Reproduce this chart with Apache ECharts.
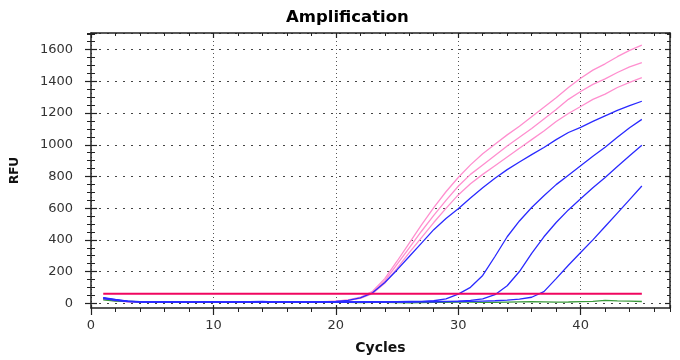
<!DOCTYPE html>
<html><head><meta charset="utf-8">
<script src="https://cdn.jsdelivr.net/npm/echarts@6/dist/echarts.min.js"></script>
<style>html,body{margin:0;padding:0;background:#fff}#c{width:680px;height:360px}</style>
</head><body><div id="c"></div>
<script>
const cycles = [1,2,3,4,5,6,7,8,9,10,11,12,13,14,15,16,17,18,19,20,21,22,23,24,25,26,27,28,29,30,31,32,33,34,35,36,37,38,39,40,41,42,43,44,45];
const pink1 = [22,12,4,2,1,0,1,2,1,0,-1,1,2,3,1,0,1,2,4,8,15,32,70,150,260,375,490,600,700,790,870,940,1000,1060,1115,1175,1235,1295,1360,1418,1470,1510,1555,1595,1628];
const pink2 = [20,10,3,1,0,1,2,0,1,2,0,1,3,2,0,1,2,1,3,7,13,28,62,135,240,345,450,550,645,735,810,870,930,990,1045,1100,1160,1220,1285,1335,1380,1415,1455,1490,1517];
const pink3 = [18,9,4,2,1,0,2,1,0,1,3,2,1,0,2,3,1,2,3,6,12,25,55,120,215,315,410,505,595,680,750,810,865,920,975,1030,1085,1145,1195,1240,1285,1318,1360,1392,1422];
const blue1 = [30,18,8,4,3,2,3,1,2,4,1,3,4,6,3,2,3,2,4,6,12,28,60,125,205,290,375,460,530,592,660,725,785,840,888,935,980,1030,1075,1108,1145,1180,1215,1245,1273];
const blue2 = [28,16,7,3,2,3,2,1,3,2,0,2,3,2,1,2,3,1,2,3,2,3,4,3,4,5,6,10,22,52,95,170,290,415,515,600,675,745,805,865,925,982,1045,1105,1158];
const blue3 = [26,14,6,3,2,1,2,3,1,2,1,2,1,3,2,1,2,3,2,1,2,3,2,3,4,3,4,5,6,8,12,22,48,105,195,310,415,505,585,655,725,790,860,928,994];
const blue4 = [24,13,5,2,1,2,1,0,2,1,3,2,1,2,0,1,2,1,2,1,1,2,1,2,3,2,3,3,4,5,6,8,10,14,20,32,68,150,235,315,395,480,565,650,736];
const green = [15,8,6,4,2,1,0,1,0,-1,0,1,0,-1,0,1,0,-1,0,1,0,-2,-1,0,-2,-3,-2,-1,0,1,2,0,-1,1,3,4,3,1,2,4,6,12,9,7,5];
const THRESHOLD = 55;
const Y_MAJOR_STEP = 200, Y_MINOR_STEP = 50;
const X_MAJOR_STEP = 10, X_MINOR_STEP = 2;
const YMIN = -36, YMAX = 1705, XMIN = 0, XMAX = 47.3;

const FONT = 'DejaVu Sans';
const AX = '#222';

// geometry: plot grid and a tick grid whose bottom sits at y=0
const G_LEFT = 91, G_RIGHT = 10, G_TOP = 33, G_BOTTOM = 51, H = 360;
const plotH = H - G_TOP - G_BOTTOM;
const zeroBottom = G_BOTTOM + (0 - YMIN) / (YMAX - YMIN) * plotH;

const noAxis = {splitLine:{show:false}, axisLabel:{show:false}, axisTick:{show:false}, minorTick:{show:false}, axisLine:{show:false, onZero:false}};
function ax(base, o){ return Object.assign({type:'value'}, noAxis, base, o); }
const tk = (len, inside, w) => ({show:true, length:len, inside:inside, lineStyle:{color:AX, width:w||1}});
const lineOn = {show:true, onZero:false, lineStyle:{color:AX, width:1.5}};

const xBase = {gridIndex:0, min:XMIN, max:XMAX};
const xAxes = [
  ax(xBase, {position:'bottom', interval:X_MAJOR_STEP, axisLine:lineOn, axisTick:tk(7,false,1.2),
    axisLabel:{show:true, margin:11, fontFamily:FONT, fontSize:13, color:'#333', showMaxLabel:false, formatter:v=>String(v)},
    splitLine:{show:true, lineStyle:{color:'#555', width:1, type:[1,3]}},
    name:'Cycles', nameLocation:'middle', nameGap:33,
    nameTextStyle:{fontFamily:FONT, fontWeight:'bold', fontSize:14, color:'#111'}}),
  ax(xBase, {position:'bottom', interval:X_MAJOR_STEP, axisTick:tk(3,true,1.2)}),
  ax(xBase, {position:'bottom', interval:X_MINOR_STEP, axisTick:tk(4,false)}),
  ax(xBase, {position:'top', interval:X_MAJOR_STEP, axisLine:lineOn, axisTick:tk(5,true,1.2)}),
  ax(xBase, {position:'top', interval:X_MINOR_STEP, axisTick:tk(3,true)}),
  ax({gridIndex:1, min:XMIN, max:XMAX}, {position:'bottom'})
];
const yPlot = {gridIndex:0, min:YMIN, max:YMAX};
const yTick = {gridIndex:1, min:0, max:YMAX};
const yAxes = [
  ax(yPlot, {position:'left', axisLine:lineOn, name:'RFU', nameLocation:'middle', nameGap:70, nameRotate:90,
    nameTextStyle:{fontFamily:FONT, fontWeight:'bold', fontSize:12, color:'#111'}}),
  ax(yPlot, {position:'right', axisLine:lineOn}),
  ax(yTick, {position:'left', interval:Y_MAJOR_STEP, axisTick:tk(6,false,1.2),
    axisLabel:{show:true, margin:18, fontFamily:FONT, fontSize:13, color:'#333', showMaxLabel:false, formatter:v=>String(v)},
    splitLine:{show:true, lineStyle:{color:'#444', width:1, type:[2,6]}}}),
  ax(yTick, {position:'left', interval:Y_MAJOR_STEP, axisTick:tk(6,true,1.2)}),
  ax(yTick, {position:'left', interval:Y_MINOR_STEP, axisTick:tk(4,false)}),
  ax(yTick, {position:'left', interval:Y_MINOR_STEP, axisTick:tk(4,true)}),
  ax(yTick, {position:'right', interval:Y_MAJOR_STEP, axisTick:tk(5,true,1.2)}),
  ax(yTick, {position:'right', interval:Y_MINOR_STEP, axisTick:tk(3,true)})
];

const toPts = arr => cycles.map((c,i)=>[c, arr[i]]);
const mk = (name, arr, color, w, z) => ({type:'line', name, xAxisIndex:0, yAxisIndex:0, data: toPts(arr), symbol:'none', showSymbol:false,
  lineStyle:{color, width:w}, itemStyle:{color}, z, silent:true, animation:false});

const series = [
  mk('p1', pink1, '#ff8fcf', 1.3, 3),
  mk('p2', pink2, '#ff8fcf', 1.3, 3),
  mk('p3', pink3, '#ff8fcf', 1.3, 3),
  mk('g', green, '#3a9a3a', 1.3, 4),
  mk('b1', blue1, '#2a2aff', 1.3, 5),
  mk('b2', blue2, '#2a2aff', 1.3, 5),
  mk('b3', blue3, '#2a2aff', 1.3, 5),
  mk('b4', blue4, '#2a2aff', 1.3, 5),
  {type:'line', name:'threshold', xAxisIndex:0, yAxisIndex:0,
   data:[[cycles[0],THRESHOLD],[cycles[cycles.length-1],THRESHOLD]],
   symbol:'none', lineStyle:{color:'#f0065f', width:2}, z:6, silent:true, animation:false}
];

const chart = echarts.init(document.getElementById('c'), null, {renderer:'canvas'});
chart.setOption({
  animation:false,
  backgroundColor:'#fff',
  title:{text:'Amplification', left:281, top:4, textStyle:{fontFamily:FONT, fontWeight:'bold', fontSize:16.5, color:'#000'}},
  grid:[
    {left:G_LEFT, right:G_RIGHT, top:G_TOP, bottom:G_BOTTOM, containLabel:false},
    {left:G_LEFT, right:G_RIGHT, top:G_TOP, bottom:zeroBottom, containLabel:false}
  ],
  xAxis: xAxes,
  yAxis: yAxes,
  series: series
});
</script>
</body></html>
